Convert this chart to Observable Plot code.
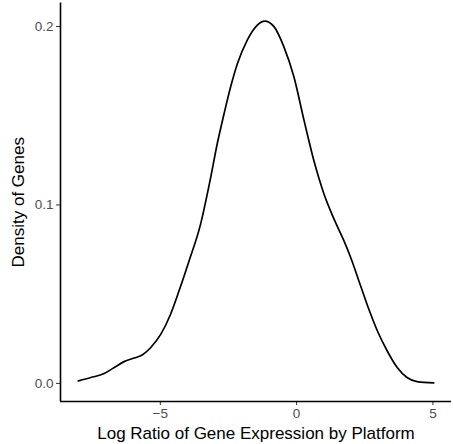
<!DOCTYPE html>
<html>
<head>
<meta charset="utf-8">
<script src="https://cdn.jsdelivr.net/npm/d3@7"></script>
<script src="https://cdn.jsdelivr.net/npm/@observablehq/plot@0.6"></script>
<style>
  html, body { margin: 0; padding: 0; background: #fff; }
  #chart { width: 453px; height: 444px; }
</style>
</head>
<body>
<div id="chart"></div>
<script>
// Density curve of log ratio
const logRatio = [-8.01, -7.55, -7.06, -6.69, -6.33, -5.96, -5.65, -5.35, -4.98, -4.62, -4.31, -3.97, -3.52, -3.15, -2.91, -2.66, -2.42, -2.17, -1.81, -1.44, -1.17, -0.83, -0.47, -0.10, 0.27, 0.63, 1.00, 1.37, 1.73, 1.98, 2.34, 2.65, 2.96, 3.32, 3.69, 4.05, 4.42, 5.03];
const density  = [0.0014, 0.0033, 0.0055, 0.0089, 0.0122, 0.0142, 0.0160, 0.0201, 0.0276, 0.0389, 0.0520, 0.0675, 0.0894, 0.1156, 0.1344, 0.1512, 0.1662, 0.1793, 0.1924, 0.2008, 0.2030, 0.1999, 0.1887, 0.1718, 0.1475, 0.1250, 0.1063, 0.0922, 0.0801, 0.0707, 0.0550, 0.0415, 0.0295, 0.0183, 0.0089, 0.0033, 0.0010, 0.0003];
const xTicks = [-5, 0, 5];
const yTicks = [0, 0.1, 0.2];
const xTitle = "Log Ratio of Gene Expression by Platform";
const yTitle = "Density of Genes";

const data = logRatio.map((x, i) => ({x, y: density[i]}));

function expand(ext, f = 0.05) {
  const d = ext[1] - ext[0];
  return [ext[0] - d * f, ext[1] + d * f];
}
const xDomain = expand(d3.extent(logRatio));
const yDomain = expand([0, d3.max(density)]);

const font = "'Liberation Sans', Arial, Helvetica, sans-serif";

const chart = Plot.plot({
  width: 453,
  height: 444,
  marginLeft: 60,
  marginRight: 2,
  marginTop: 2.5,
  marginBottom: 43,
  style: { fontFamily: font, background: "#fff", overflow: "visible" },
  x: { domain: xDomain },
  y: { domain: yDomain },
  marks: [
    Plot.axisX(xTicks, {
      tickSize: 4, tickPadding: 3, stroke: "#333333", strokeWidth: 1,
      fill: "#4d4d4d", fontSize: 13.5, tickFormat: d3.format("d"),
      label: null
    }),
    Plot.axisY(yTicks, {
      tickSize: 4, tickPadding: 3, stroke: "#333333", strokeWidth: 1,
      fill: "#4d4d4d", fontSize: 13.5, tickFormat: d3.format(".1f"),
      label: null
    }),
    Plot.ruleY([yDomain[0]], { stroke: "black", strokeWidth: 1.6 }),
    Plot.ruleX([xDomain[0]], { stroke: "black", strokeWidth: 1.6 }),
    Plot.line(data, { x: "x", y: "y", curve: "monotone-x", stroke: "black", strokeWidth: 1.7 }),
    Plot.text([xTitle], {
      frameAnchor: "bottom", textAnchor: "middle", lineAnchor: "middle", dy: 32,
      fontSize: 17, fill: "black", text: d => d
    }),
    Plot.text([yTitle], {
      frameAnchor: "left", textAnchor: "middle", lineAnchor: "middle", dx: -42, rotate: -90,
      fontSize: 17, fill: "black", text: d => d
    })
  ]
});

document.getElementById("chart").appendChild(chart);
</script>
</body>
</html>
